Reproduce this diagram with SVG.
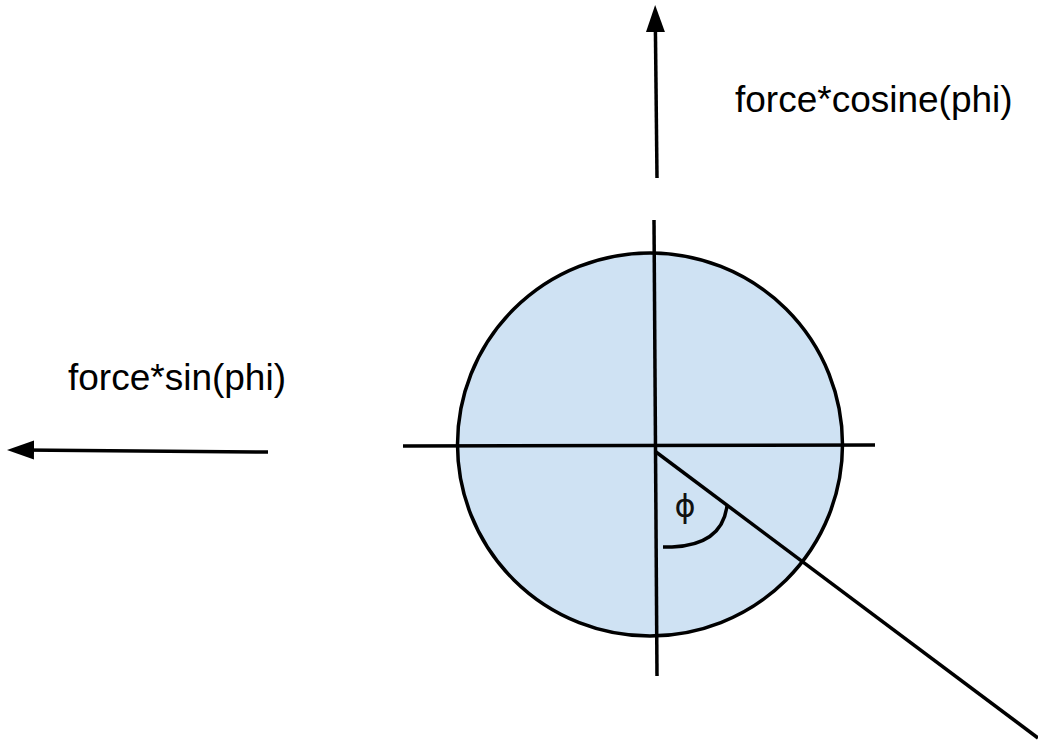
<svg xmlns="http://www.w3.org/2000/svg" width="1038" height="746" viewBox="0 0 1038 746">
  <style>
    .ln { stroke: #000; stroke-width: 3.5; fill: none; }
    .lbl { font-family: "Liberation Sans", Arial, sans-serif; font-size: 37px; fill: #000; }
  </style>
  <defs>
    <marker id="ah" markerUnits="userSpaceOnUse" markerWidth="28" markerHeight="20" refX="12" refY="9.5" orient="auto">
      <path d="M0,0 L27,9.5 L0,19 z" fill="#000"/>
    </marker>
  </defs>
  <rect width="1038" height="746" fill="#fff"/>
  <g id="disc">
    <ellipse cx="650" cy="444.5" rx="192.5" ry="191.5" fill="#cfe2f3" stroke="#000" stroke-width="3.5"/>
  </g>
  <g id="connectors">
    <line class="ln" x1="654" y1="220" x2="657" y2="676"/>
    <line class="ln" x1="403" y1="446" x2="875" y2="445"/>
    <line class="ln" x1="656" y1="452" x2="1038" y2="738"/>
    <path class="ln" d="M663 547 L672 547 Q722 545 727 506"/>
    <line class="ln" x1="657" y1="178" x2="655.3" y2="20" marker-end="url(#ah)"/>
    <line class="ln" x1="268" y1="452" x2="22" y2="450" marker-end="url(#ah)"/>
  </g>
  <g id="label-cos">
    <text class="lbl" x="735" y="112">force*cosine(phi)</text>
  </g>
  <g id="label-sin">
    <text class="lbl" x="68" y="390">force*sin(phi)</text>
  </g>
  <g id="label-phi">
    <text x="685" y="517" text-anchor="middle" style="font-family: 'DejaVu Sans', sans-serif; font-size: 32px; fill: #111;">ϕ</text>
  </g>
</svg>
